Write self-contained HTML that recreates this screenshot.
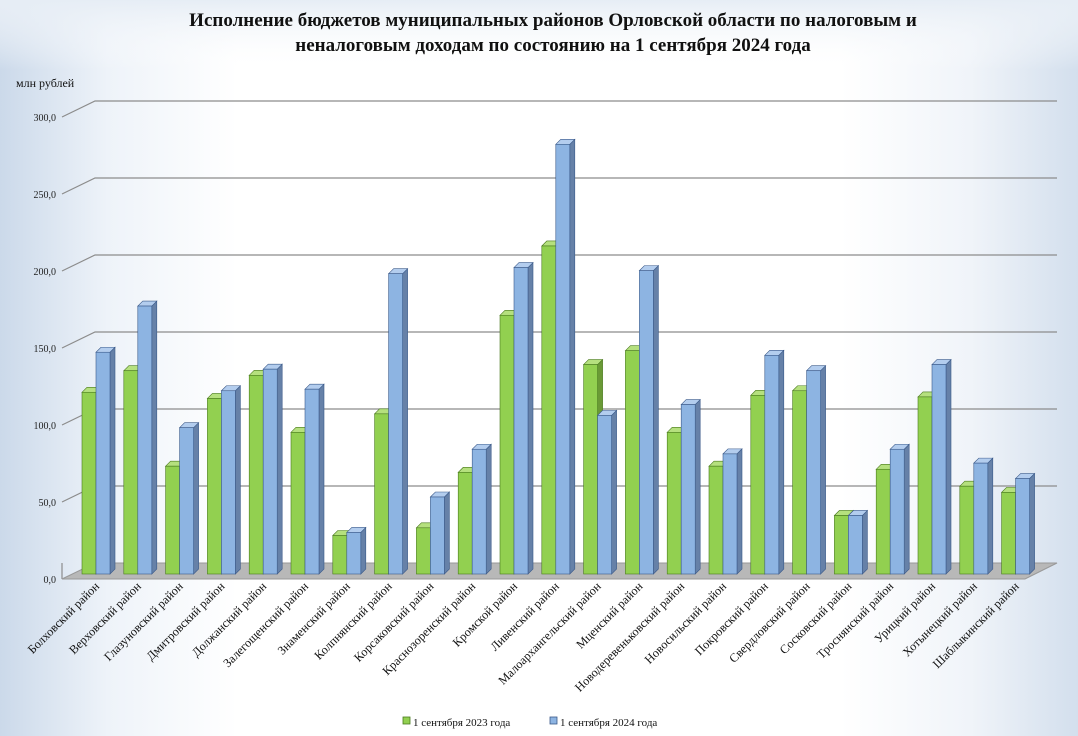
<!DOCTYPE html>
<html><head><meta charset="utf-8"><style>
html,body{margin:0;padding:0;}
body{width:1078px;height:736px;overflow:hidden;background:linear-gradient(90deg,#cbd9ea 0%,#eef3f9 10%,#fff 22%,#fff 78%,#f0f4f9 90%,#d3dfed 100%);font-family:"Liberation Serif",serif;}
</style></head><body>
<svg width="1078" height="736" xmlns="http://www.w3.org/2000/svg" style="position:absolute;left:0;top:0">
<defs>
<linearGradient id="tg" x1="0" y1="0" x2="0" y2="1"><stop offset="0" stop-color="#e6edf5"/><stop offset="1" stop-color="#ffffff" stop-opacity="0"/></linearGradient>
</defs>
<rect x="0" y="0" width="1078" height="70" fill="url(#tg)"/>
<text x="553" y="26" text-anchor="middle" font-size="19" font-weight="bold" fill="#111">Исполнение бюджетов муниципальных  районов Орловской области по налоговым и</text>
<text x="553" y="51" text-anchor="middle" font-size="19" font-weight="bold" fill="#111">неналоговым доходам по состоянию на 1 сентября  2024 года</text>
<text x="16" y="87" font-size="12" fill="#111">млн рублей</text>
<g id="grid" stroke="#8c8c8c" stroke-width="1.2" fill="none"></g>
<polygon points="62,579 95,563 1057,563 1025,579" fill="#b8b8b8" stroke="#999"/>
<g font-size="10" fill="#222" text-anchor="end">
<text x="56" y="121">300,0</text><text x="56" y="198">250,0</text><text x="56" y="275">200,0</text><text x="56" y="352">150,0</text><text x="56" y="429">100,0</text><text x="56" y="506">50,0</text><text x="56" y="583">0,0</text>
</g>
<g id="bars"></g>
<g font-size="12.3" fill="#111" text-anchor="end" id="labels">
<text transform="translate(100,587) rotate(-45)">Болховский  район</text>
<text transform="translate(141.8,587) rotate(-45)">Верховский район</text>
<text transform="translate(183.6,587) rotate(-45)">Глазуновский район</text>
<text transform="translate(225.4,587) rotate(-45)">Дмитровский район</text>
<text transform="translate(267.2,587) rotate(-45)">Должанский  район</text>
<text transform="translate(309,587) rotate(-45)">Залегощенский  район</text>
<text transform="translate(350.8,587) rotate(-45)">Знаменский  район</text>
<text transform="translate(392.6,587) rotate(-45)">Колпнянский район</text>
<text transform="translate(434.4,587) rotate(-45)">Корсаковский район</text>
<text transform="translate(476.2,587) rotate(-45)">Краснозоренский район</text>
<text transform="translate(518,587) rotate(-45)">Кромской район</text>
<text transform="translate(559.8,587) rotate(-45)">Ливенский район</text>
<text transform="translate(601.6,587) rotate(-45)">Малоархангельский район</text>
<text transform="translate(643.4,587) rotate(-45)">Мценский район</text>
<text transform="translate(685.2,587) rotate(-45)">Новодеревеньковский район</text>
<text transform="translate(727,587) rotate(-45)">Новосильский район</text>
<text transform="translate(768.8,587) rotate(-45)">Покровский район</text>
<text transform="translate(810.6,587) rotate(-45)">Свердловский район</text>
<text transform="translate(852.4,587) rotate(-45)">Сосковский район</text>
<text transform="translate(894.2,587) rotate(-45)">Троснянский район</text>
<text transform="translate(936,587) rotate(-45)">Урицкий район</text>
<text transform="translate(977.8,587) rotate(-45)">Хотынецкий  район</text>
<text transform="translate(1019.6,587) rotate(-45)">Шаблыкинский  район</text>
</g>
<rect x="403" y="717" width="7" height="7" fill="#92d050" stroke="#4a7a1e" stroke-width="0.8"/>
<text x="413" y="726" font-size="11" fill="#111">1 сентября 2023  года</text>
<rect x="550" y="717" width="7" height="7" fill="#8db4e2" stroke="#3b5a8a" stroke-width="0.8"/>
<text x="560" y="726" font-size="11" fill="#111">1 сентября 2024  года</text>
</svg>
<script>
(function(){
var NS="http://www.w3.org/2000/svg";
var g=document.getElementById("grid");
for(var k=1;k<=6;k++){var y=563-77*k;var fy=579-77*k;
var p=document.createElementNS(NS,"polyline");p.setAttribute("points","62,"+fy+" 95,"+y+" 1057,"+y);g.appendChild(p);}
var p0=document.createElementNS(NS,"polyline");p0.setAttribute("points","62,563 62,579");g.appendChild(p0);
var d=[[118,144],[132,174],[70,95],[114,119],[129,133],[92,120],[25,27],[104,195],[30,50],[66,81],[168,199],[213,279],[136,103],[145,197],[92,110],[70,78],[116,142],[119,132],[38,38],[68,81],[115,136],[57,72],[53,62]];
var b=document.getElementById("bars");
function bar(x,v,f,s,t,st){var base=574,h=v*1.54,top=base-h,w=14,dx=5,dy=-5;
var gg=document.createElementNS(NS,"g");
gg.innerHTML='<polygon points="'+(x+w)+','+top+' '+(x+w+dx)+','+(top+dy)+' '+(x+w+dx)+','+(base+dy)+' '+(x+w)+','+base+'" fill="'+s+'" stroke="'+st+'" stroke-width="0.6"/>'+
'<polygon points="'+x+','+top+' '+(x+dx)+','+(top+dy)+' '+(x+w+dx)+','+(top+dy)+' '+(x+w)+','+top+'" fill="'+t+'" stroke="'+st+'" stroke-width="0.6"/>'+
'<rect x="'+x+'" y="'+top+'" width="'+w+'" height="'+h+'" fill="'+f+'" stroke="'+st+'" stroke-width="0.6"/>';
b.appendChild(gg);}
for(var i=0;i<d.length;i++){var x=82+41.8*i;
bar(x,d[i][0],"#92d050","#6a9a36","#b5e07e","#4a7a1e");
bar(x+14,d[i][1],"#8db4e2","#6681a8","#b3cdee","#3b5a8a");}
})();
</script>
</body></html>
